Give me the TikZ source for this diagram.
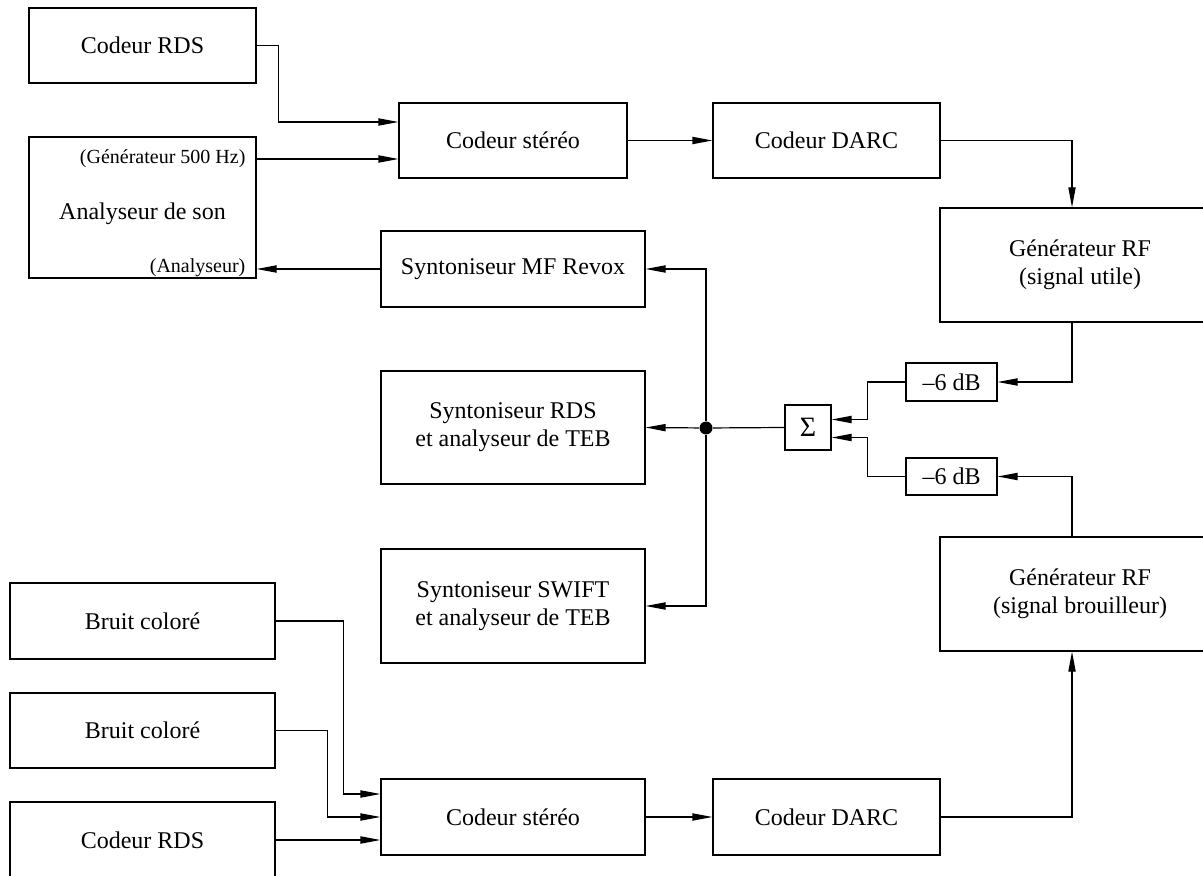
\documentclass[tikz,border=0pt]{standalone}
\usepackage{fontspec}
\setmainfont{Liberation Serif}
\usepackage{tikz}
\usetikzlibrary{arrows.meta}
\usetikzlibrary{positioning}
\usetikzlibrary{calc}
\tikzset{every picture/.style={line width=0.6pt},
  bloc/.style={draw, inner sep=0pt, align=center, font=\fontsize{12}{14}\selectfont},
  petit/.style={font=\fontsize{10}{12}\selectfont, inner sep=2pt},
  fleche/.style={-{Triangle[length=10pt,width=3.6pt]}},
  noeud/.style={circle, fill, inner sep=0pt, minimum size=6.5pt}}

\begin{document}
\begin{tikzpicture}[x=0.5pt,y=-0.5pt]
\useasboundingbox (0,0) rectangle (1203,876);
% chaine du signal utile
\node[bloc, minimum width=113.5pt, minimum height=37.5pt] (rdsA) at (142.5,45.5) {Codeur RDS};
\node[bloc, minimum width=113.5pt, minimum height=70.5pt] (analyseur) at (142.5,207.5) {\raisebox{-3pt}[\height][\depth]{Analyseur de son}};
\node[petit, anchor=east] (gen500) at (250,159) {(Générateur 500 Hz)};
\node[petit, anchor=east] (anaIn) at (250,268) {(Analyseur)};
\node[bloc, minimum width=114pt, minimum height=37.5pt] (stereoA) at (513,140.5) {Codeur stéréo};
\node[bloc, minimum width=113.5pt, minimum height=37.5pt] (darcA) at (826.5,140.5) {Codeur DARC};
\node[bloc, minimum width=140pt, minimum height=57pt] (genU) at (1080,265) {Générateur RF\\(signal utile)};
% recepteurs
\node[bloc, minimum width=132pt, minimum height=38pt] (revox) at (513,269) {Syntoniseur MF Revox};
\node[bloc, minimum width=132pt, minimum height=56.5pt] (synRds) at (513,427.5) {Syntoniseur RDS\\et analyseur de TEB};
\node[bloc, minimum width=132pt, minimum height=57pt] (swift) at (513,606) {Syntoniseur SWIFT\\et analyseur de TEB};
% attenuateurs et sommateur
\node[bloc, minimum width=45.5pt, minimum height=19pt] (dbA) at (951.5,382) {–6 dB};
\node[bloc, minimum width=45.5pt, minimum height=18.5pt] (dbB) at (951.5,476.5) {–6 dB};
\node[bloc, minimum width=23pt, minimum height=22.5pt, font=\fontsize{14}{14}\selectfont] (somme) at (808,427.5) {Σ};
\node[noeud] (dot) at (706,428) {};
% chaine du signal brouilleur
\node[bloc, minimum width=140pt, minimum height=57pt] (genB) at (1080,594) {Générateur RF\\(signal brouilleur)};
\node[bloc, minimum width=132.5pt, minimum height=38pt] (bruitA) at (142.5,621) {Bruit coloré};
\node[bloc, minimum width=132.5pt, minimum height=37.5pt] (bruitB) at (142.5,730.5) {Bruit coloré};
\node[bloc, minimum width=132.5pt, minimum height=38pt] (rdsB) at (142.5,840) {Codeur RDS};
\node[bloc, minimum width=132pt, minimum height=38pt] (stereoB) at (513,817) {Codeur stéréo};
\node[bloc, minimum width=113.5pt, minimum height=38pt] (darcB) at (826.5,817) {Codeur DARC};
\coordinate (coudeU) at (1072,140.5);
\coordinate (coudeB) at (1072,817);

\draw[fleche] (rdsA.east) -- ++(22,0) |- ([yshift=9.25pt]stereoA.west);
\draw[fleche] (analyseur.east |- gen500) -- (stereoA.west |- gen500);
\draw[fleche] (revox.west) -- (analyseur.east |- revox.west);
\draw[fleche] (stereoA) -- (darcA);
\draw[fleche] (darcA.east) -- (coudeU) -- (coudeU |- genU.north);
\draw[fleche] (coudeU |- genU.south) |- (dbA.east);
\draw[fleche] (coudeU |- genB.north) |- (dbB.east);
\draw[fleche] (dbA.west) -- ++(-38,0) |- ([yshift=4pt]somme.east);
\draw[fleche] (dbB.west) -- ++(-38,0) |- ([yshift=-5pt]somme.east);
\draw (somme.west) -- (dot);
\draw[fleche] (dot) -- (synRds.east);
\draw[fleche] (dot) |- (revox.east);
\draw[fleche] (dot) |- (swift.east);
\draw[fleche] (bruitA.east) -- ++(68,0) |- ([yshift=11.5pt]stereoB.west);
\draw[fleche] (bruitB.east) -- ++(52,0) |- (stereoB.west);
\draw[fleche] (rdsB.east) -- (stereoB.west |- rdsB.east);
\draw[fleche] (stereoB) -- (darcB);
\draw[fleche] (darcB.east) -- (coudeB) -- (coudeB |- genB.south);
\end{tikzpicture}
\end{document}
